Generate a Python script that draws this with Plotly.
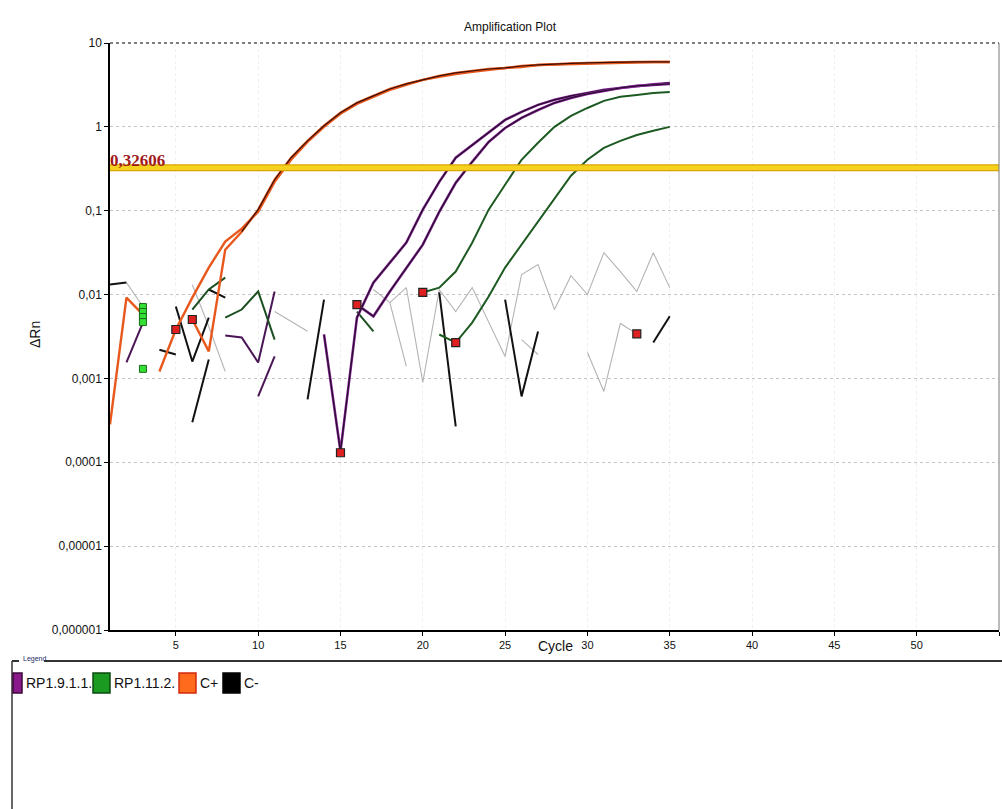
import plotly.graph_objects as go

N = None

# ---------------- data (cycle, ΔRn) ----------------
# C+ wells
cplus_1_cyc = list(range(4, 36))
cplus_1_val = [0.00121, 0.00383, 0.0092, 0.0210, 0.0428, 0.0611, 0.0973, 0.221, 0.405, 0.663,
               1.0, 1.43, 1.88, 2.28, 2.76, 3.16, 3.63, 3.94, 4.27, 4.52, 4.77, 5.04, 5.18,
               5.47, 5.55, 5.62, 5.70, 5.78, 5.86, 5.94, 5.94, 5.94]
cplus_2_cyc = list(range(1, 36))
cplus_2_val = [0.000283, 0.0092, 0.00578, N, N, 0.00504, 0.00210, 0.0343, 0.0562, 0.103,
               0.234, 0.428, 0.68, 1.03, 1.47, 1.93, 2.34, 2.83, 3.25, 3.63, 4.05, 4.40,
               4.64, 4.90, 5.04, 5.32, 5.47, 5.62, 5.70, 5.78, 5.86, 5.94, 5.94, 5.94, 5.94]

# RP1.9.1.1. wells
rp9_1_cyc = list(range(14, 36))
rp9_1_val = [0.00334, 0.000135, 0.0053, 0.0139, 0.024, 0.0416, 0.103, 0.221, 0.428, 0.61,
             0.87, 1.21, 1.51, 1.83, 2.10, 2.34, 2.54, 2.76, 2.91, 3.08, 3.21, 3.34]
rp9_2_cyc = list(range(16, 36))
rp9_2_val = [0.0076, 0.0055, 0.0109, 0.021, 0.0394, 0.097, 0.215, 0.383, 0.66, 0.97,
             1.28, 1.59, 1.93, 2.21, 2.47, 2.68, 2.91, 3.08, 3.16, 3.25]
rp9_3_cyc = [2, 3, 4, 8, 9, 10, 11]
rp9_3_val = [0.00155, 0.00464, N, 0.00325, 0.00308, 0.00155, 0.0109]
rp9_4_cyc = [10, 11]
rp9_4_val = [0.00061, 0.00183]

# RP1.11.2. wells
rp11_1_cyc = list(range(20, 36))
rp11_1_val = [0.0106, 0.0121, 0.0188, 0.0416, 0.103, 0.204, 0.405, 0.645, 1.0, 1.35,
              1.68, 2.04, 2.28, 2.40, 2.54, 2.61]
rp11_2_cyc = list(range(21, 36))
rp11_2_val = [0.00334, 0.00268, 0.00464, 0.00946, 0.021, 0.0394, 0.074, 0.139, 0.261,
              0.405, 0.562, 0.68, 0.80, 0.90, 1.0]
rp11_3_cyc = [6, 7, 8, 9, 16, 17]
rp11_3_val = [0.00663, 0.0115, 0.0159, N, 0.00627, 0.00365]
rp11_4_cyc = [8, 9, 10, 11]
rp11_4_val = [0.0053, 0.00663, 0.0109, 0.0029]

# C- wells
cneg_1_cyc = [1, 2, 3, 7, 8, 9, 21, 22, 23, 34, 35]
cneg_1_val = [0.01315, 0.0139, N, 0.0115, 0.0092, N, 0.0106, 0.000268, N, 0.00268, 0.0055]
cneg_2_cyc = [4, 5, 6, 13, 14, 15, 25, 26, 27]
cneg_2_val = [0.0022, 0.00193, N, 0.000562, 0.0087, N, 0.0087, 0.00061, 0.00363]
cneg_3_cyc = [5, 6, 7]
cneg_3_val = [0.0072, 0.00159, 0.0053]
cneg_4_cyc = [6, 7]
cneg_4_val = [0.0003, 0.00168]

# other (unlabelled) wells, drawn grey
grey_1_cyc = [2, 3, 4, 6, 7, 8, 9, 11, 12, 13]
grey_1_val = [0.0139, 0.0072, N, 0.0131, 0.00416, 0.00121, N, 0.00627, 0.0048, 0.00365]
grey_2_cyc = list(range(17, 36))
grey_2_val = [0.0115, 0.00803, 0.0121, 0.000896, 0.0115, 0.00627, 0.0121, 0.00464, 0.00183,
              0.0173, 0.0228, 0.00663, 0.0168, 0.01, 0.0316, 0.0188, 0.0109, 0.0316, 0.0121]
grey_3_cyc = [18, 19, 20, 26, 27, 28, 30, 31, 32, 33]
grey_3_val = [0.00803, 0.00139, N, 0.0029, 0.00193, N, 0.00204, 0.0007, 0.00452, 0.0034]

# markers
ct_cyc = [5, 6, 15, 16, 20, 22, 33]
ct_val = [0.00383, 0.00504, 0.00013, 0.0076, 0.0106, 0.00268, 0.0034]
start_cyc = [3, 3, 3, 3, 3]
start_val = [0.0071, 0.0062, 0.0054, 0.0047, 0.0013]

threshold = 0.32606
threshold_label = "0,32606"

x_ticks = [5, 10, 15, 20, 25, 30, 35, 40, 45, 50, 55]
y_tickvals = [10, 1, 0.1, 0.01, 0.001, 0.0001, 0.00001, 0.000001]
y_ticktext = ["10", "1", "0,1", "0,01", "0,001", "0,0001", "0,00001", "0,000001"]

legend_names = ["RP1.9.1.1.", "RP1.11.2.", "C+", "C-"]
legend_colors = ["#8a1a8c", "#1b9a22", "#ff6a1c", "#000000"]
legend_edges = ["#3a0a3a", "#0c4a10", "#d12a10", "#000000"]

# ---------------- figure ----------------
FONT = "Liberation Sans, Arial, sans-serif"
PL, PR, PT, PB = 110, 999, 43, 630
W, H = 1002, 809


def px(x):
    return (x - PL) / (PR - PL)


def py(y):
    return (PB - y) / (PB - PT)


fig = go.Figure()


def add(cyc, val, color, width):
    fig.add_trace(go.Scatter(x=cyc, y=val, mode="lines", connectgaps=False,
                             line=dict(color=color, width=width), showlegend=False,
                             hoverinfo="skip"))


for c, v in [(grey_1_cyc, grey_1_val), (grey_2_cyc, grey_2_val), (grey_3_cyc, grey_3_val)]:
    add(c, v, "#b4b4b4", 1.1)

for c, v in [(cneg_1_cyc, cneg_1_val), (cneg_2_cyc, cneg_2_val),
             (cneg_3_cyc, cneg_3_val), (cneg_4_cyc, cneg_4_val)]:
    add(c, v, "#111111", 2)

for c, v in [(rp9_3_cyc, rp9_3_val), (rp9_4_cyc, rp9_4_val)]:
    add(c, v, "#4a1656", 2)
for c, v in [(rp11_3_cyc, rp11_3_val), (rp11_4_cyc, rp11_4_val)]:
    add(c, v, "#1c4f20", 2)

add(rp11_1_cyc, rp11_1_val, "#1d5a22", 2)
add(rp11_2_cyc, rp11_2_val, "#1d5a22", 2)
add(rp9_1_cyc, rp9_1_val, "#8a2a9a", 2.6)
add(rp9_1_cyc, rp9_1_val, "#2a0c30", 1.3)
add(rp9_2_cyc, rp9_2_val, "#8a2a9a", 2.6)
add(rp9_2_cyc, rp9_2_val, "#2a0c30", 1.3)
add(cplus_1_cyc, cplus_1_val, "#e8581c", 2.4)
add(cplus_2_cyc, cplus_2_val, "#e8581c", 2.4)
add(cplus_2_cyc[8:], cplus_2_val[8:], "#3a0e08", 1.2)

# threshold
fig.add_trace(go.Scatter(x=[1, 55], y=[threshold, threshold], mode="lines",
                         line=dict(color="#d9a400", width=7), showlegend=False, hoverinfo="skip"))
fig.add_trace(go.Scatter(x=[1, 55], y=[threshold, threshold], mode="lines",
                         line=dict(color="#f6d21e", width=4.5), showlegend=False, hoverinfo="skip"))

# markers
fig.add_trace(go.Scatter(x=ct_cyc, y=ct_val, mode="markers", showlegend=False, hoverinfo="skip",
                         marker=dict(symbol="square", size=8, color="#e02020",
                                     line=dict(color="#222", width=1.2))))
fig.add_trace(go.Scatter(x=start_cyc, y=start_val, mode="markers", showlegend=False, hoverinfo="skip",
                         marker=dict(symbol="square", size=7, color="#33e033",
                                     line=dict(color="#1a6a1a", width=1))))

fig.update_xaxes(range=[1, 55], tickvals=x_ticks, ticks="outside", ticklen=4, tickwidth=1,
                 tickcolor="#000", showline=True, linecolor="#000", linewidth=2,
                 showgrid=True, gridcolor="#efefef", griddash="dot", zeroline=False,
                 tickfont=dict(family=FONT, size=11, color="#111"), automargin=False)
fig.update_yaxes(type="log", range=[-6, 1], tickvals=y_tickvals, ticktext=y_ticktext,
                 ticks="outside", ticklen=4, tickwidth=1, tickcolor="#000",
                 showline=True, linecolor="#000", linewidth=1.5,
                 showgrid=True, gridcolor="#c4c4c4", griddash="dot", gridwidth=1, zeroline=False,
                 tickfont=dict(family=FONT, size=12, color="#111"), automargin=False)

shapes = [
    dict(type="line", xref="paper", yref="paper", x0=0, x1=1, y0=1, y1=1,
         line=dict(color="#555", width=1.5, dash="dot")),
    dict(type="line", xref="paper", yref="paper", x0=1, x1=1, y0=0, y1=1,
         line=dict(color="#777", width=1)),
    # legend frame
    dict(type="line", xref="paper", yref="paper", x0=px(12), x1=px(19), y0=py(661), y1=py(661),
         line=dict(color="#333", width=2)),
    dict(type="line", xref="paper", yref="paper", x0=px(44), x1=px(1002), y0=py(661), y1=py(661),
         line=dict(color="#333", width=2.2)),
    dict(type="line", xref="paper", yref="paper", x0=px(12), x1=px(12), y0=py(661), y1=py(809),
         line=dict(color="#333", width=1.5)),
]

annotations = [
    dict(text="Amplification Plot", xref="paper", yref="paper", x=px(510), y=py(27),
         showarrow=False, font=dict(family=FONT, size=12, color="#111"), xanchor="center", yanchor="middle"),
    dict(text="ΔRn", xref="paper", yref="paper", x=px(35), y=py(335), textangle=-90,
         showarrow=False, font=dict(family=FONT, size=14, color="#111"), xanchor="center", yanchor="middle"),
    dict(text="Cycle", xref="paper", yref="paper", x=px(555), y=py(646),
         showarrow=False, font=dict(family=FONT, size=14, color="#111"), xanchor="center", yanchor="middle"),
    dict(text="<b>" + threshold_label + "</b>", xref="x", yref="y", x=1, y=-0.4867,
         showarrow=False, font=dict(family="Liberation Serif, Times New Roman, serif", size=17, color="#a11a1a"),
         xanchor="left", yanchor="middle", xshift=-2, yshift=7),
    dict(text="Legend", xref="paper", yref="paper", x=px(21), y=py(659),
         showarrow=False, font=dict(family=FONT, size=7, color="#1a2a6a"), xanchor="left", yanchor="middle"),
]

# legend swatches and names
sw_x = [(13, 22), (93, 110), (179, 196), (223, 240)]
tx_x = [24, 112, 198, 242]
for i, name in enumerate(legend_names):
    x0, x1 = sw_x[i]
    shapes.append(dict(type="rect", xref="paper", yref="paper", x0=px(x0), x1=px(x1),
                       y0=py(693), y1=py(673), fillcolor=legend_colors[i],
                       line=dict(color=legend_edges[i], width=1.5)))
    annotations.append(dict(text=name, xref="paper", yref="paper", x=px(tx_x[i]), y=py(683),
                            showarrow=False, font=dict(family=FONT, size=14, color="#111"),
                            xanchor="left", yanchor="middle"))

fig.update_layout(width=W, height=H, margin=dict(l=PL, r=W - PR, t=PT, b=H - PB),
                  paper_bgcolor="white", plot_bgcolor="white", showlegend=False,
                  shapes=shapes, annotations=annotations)

fig.write_html("out.html", config={"displayModeBar": False},
               post_script="document.body.style.margin='0';document.body.style.overflow='hidden';")
